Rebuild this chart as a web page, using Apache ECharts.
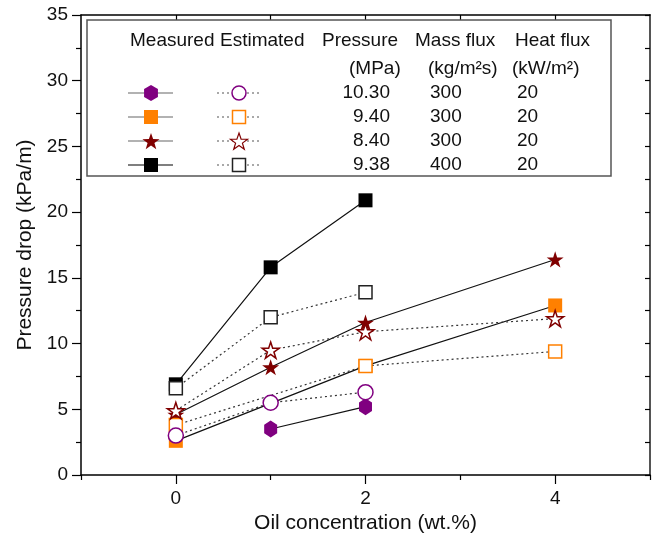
<!DOCTYPE html>
<html><head><meta charset="utf-8">
<script src="https://cdn.jsdelivr.net/npm/echarts@6/dist/echarts.min.js"></script>
<style>html,body{margin:0;padding:0;background:#fff}#c{width:657px;height:540px}</style>
</head><body><div id="c"></div>
<script>
// ---- data ----
const oilConc = [0, 1, 2, 4];
const purpleMeasured = [null, 3.5, 5.2, null];
const purpleEstimated = [3.0, 5.5, 6.3, null];
const orangeMeasured = [2.6, null, 8.3, 12.9];
const orangeEstimated = [3.8, null, 8.3, 9.4];
const redMeasured = [4.6, 8.2, 11.6, 16.4];
const redEstimated = [4.9, 9.5, 10.9, 11.9];
const blackMeasured = [6.9, 15.8, 20.9, null];
const blackEstimated = [6.6, 12.0, 13.9, null];

const xMajorTicks = [0, 2, 4];
const xMinorTicks = [-1, 1, 3, 5];
const xTopTicks = [0, 1, 2, 3, 4];

const legendHeader = ['Measured', 'Estimated', 'Pressure', 'Mass flux', 'Heat flux'];
const legendUnits = ['(MPa)', '(kg/m²s)', '(kW/m²)'];
const pressures = ['10.30', '9.40', '8.40', '9.38'];
const massFlux = ['300', '300', '300', '400'];
const heatFlux = ['20', '20', '20', '20'];

// ---- styles ----
const PURPLE = '#800080', ORANGE = '#FF8000', RED = '#800000', BLACK = '#000000';
const FONT = '"Liberation Sans", Arial, sans-serif';
const LF = '19px ' + FONT;
const HEX = 'path://M50 0 L93.3 25 L93.3 75 L50 100 L6.7 75 L6.7 25 Z';
const STAR = 'path://M50 0 L61.23 34.55 L97.55 34.55 L68.16 55.9 L79.39 90.45 L50 69.1 L20.61 90.45 L31.84 55.9 L2.45 34.55 L38.77 34.55 Z';

function pairs(vals) {
  const out = [];
  vals.forEach((v, i) => { if (v !== null) out.push([oilConc[i], v]); });
  return out;
}
function measured(name, vals, symbol, size, color) {
  return {
    name, type: 'line', data: pairs(vals), symbol, symbolSize: size, symbolKeepAspect: true,
    showAllSymbol: true, z: 3,
    lineStyle: { color: '#111', width: 1.2, type: 'solid' },
    itemStyle: { color, borderWidth: 0 }
  };
}
function estimated(name, vals, symbol, size, color) {
  return {
    name, type: 'line', data: pairs(vals), symbol, symbolSize: size, symbolKeepAspect: true,
    showAllSymbol: true, z: 4,
    lineStyle: { color: '#333', width: 1.2, type: [2, 3] },
    itemStyle: { color: '#fff', borderColor: color, borderWidth: 1.5 }
  };
}

// ---- legend (table) graphics ----
const g = [];
g.push({ type: 'rect', shape: { x: 87, y: 20, width: 524, height: 156 },
  style: { fill: '#fff', stroke: '#555', lineWidth: 1.5 }, z: 10 });
const hdrX = [130, 220, 322, 415, 515];
legendHeader.forEach((t, i) => g.push({ type: 'text', z: 11,
  style: { text: t, x: hdrX[i], y: 41, font: LF, fill: '#111', verticalAlign: 'middle' } }));
const unitX = [349, 428, 512];
legendUnits.forEach((t, i) => g.push({ type: 'text', z: 11,
  style: { text: t, x: unitX[i], y: 69, font: LF, fill: '#111', verticalAlign: 'middle' } }));
const rowY = [93, 117, 141, 165];
rowY.forEach((y, i) => {
  g.push({ type: 'text', z: 11, style: { text: pressures[i], x: 390, y, font: LF, fill: '#111', align: 'right', verticalAlign: 'middle' } });
  g.push({ type: 'text', z: 11, style: { text: massFlux[i], x: 430, y, font: LF, fill: '#111', verticalAlign: 'middle' } });
  g.push({ type: 'text', z: 11, style: { text: heatFlux[i], x: 517, y, font: LF, fill: '#111', verticalAlign: 'middle' } });
  g.push({ type: 'line', z: 11, shape: { x1: 128, y1: y, x2: 173, y2: y }, style: { stroke: i === 3 ? '#000' : '#666', lineWidth: 1.2 } });
  g.push({ type: 'line', z: 11, shape: { x1: 217, y1: y, x2: 262, y2: y }, style: { stroke: '#555', lineWidth: 1.2, lineDash: [2, 3] } });
});
function hexPts(cx, cy, r) { const p = []; for (let k = 0; k < 6; k++) { const a = (-90 + 60 * k) * Math.PI / 180; p.push([cx + r * Math.cos(a), cy + r * Math.sin(a)]); } return p; }
function starPts(cx, cy, R, r) { const p = []; for (let k = 0; k < 10; k++) { const a = (-90 + 36 * k) * Math.PI / 180; const rr = k % 2 ? r : R; p.push([cx + rr * Math.cos(a), cy + rr * Math.sin(a)]); } return p; }
const mX = 151, eX = 239;
g.push({ type: 'polygon', z: 12, shape: { points: hexPts(mX, rowY[0], 8) }, style: { fill: PURPLE } });
g.push({ type: 'circle', z: 12, shape: { cx: eX, cy: rowY[0], r: 7 }, style: { fill: '#fff', stroke: PURPLE, lineWidth: 1.5 } });
g.push({ type: 'rect', z: 12, shape: { x: mX - 7, y: rowY[1] - 7, width: 14, height: 14 }, style: { fill: ORANGE } });
g.push({ type: 'rect', z: 12, shape: { x: eX - 6.5, y: rowY[1] - 6.5, width: 13, height: 13 }, style: { fill: '#fff', stroke: ORANGE, lineWidth: 1.5 } });
g.push({ type: 'polygon', z: 12, shape: { points: starPts(mX, rowY[2] + 1, 9, 3.6) }, style: { fill: RED } });
g.push({ type: 'polygon', z: 12, shape: { points: starPts(eX, rowY[2] + 1, 9, 3.6) }, style: { fill: '#fff', stroke: RED, lineWidth: 1.2 } });
g.push({ type: 'rect', z: 12, shape: { x: mX - 7, y: rowY[3] - 7, width: 14, height: 14 }, style: { fill: BLACK } });
g.push({ type: 'rect', z: 12, shape: { x: eX - 6.5, y: rowY[3] - 6.5, width: 13, height: 13 }, style: { fill: '#fff', stroke: '#222', lineWidth: 1.5 } });

const chart = echarts.init(document.getElementById('c'), null, { renderer: 'canvas' });
chart.setOption({
  animation: false,
  backgroundColor: '#fff',
  grid: { left: 81, right: 7, top: 15, bottom: 65, containLabel: false },
  xAxis: [
    { type: 'value', min: -1, max: 5, position: 'bottom',
      name: 'Oil concentration (wt.%)', nameLocation: 'middle', nameGap: 36,
      nameTextStyle: { fontFamily: FONT, fontSize: 21, color: '#111' },
      axisLine: { show: true, onZero: false, lineStyle: { color: '#000', width: 1.5 } },
      axisTick: { show: true, customValues: xMajorTicks, length: 9, lineStyle: { color: '#000', width: 1.2 } },
      axisLabel: { customValues: xMajorTicks, margin: 14, fontFamily: FONT, fontSize: 19, color: '#111' },
      splitLine: { show: false } },
    { type: 'value', min: -1, max: 5, position: 'bottom',
      axisLine: { show: false }, axisLabel: { show: false }, splitLine: { show: false },
      axisTick: { show: true, customValues: xMinorTicks, length: 5, lineStyle: { color: '#000', width: 1.2 } } },
    { type: 'value', min: -1, max: 5, position: 'top',
      axisLine: { show: true, onZero: false, lineStyle: { color: '#000', width: 1.5 } },
      axisLabel: { show: false }, splitLine: { show: false },
      axisTick: { show: true, inside: true, customValues: xTopTicks, length: 5, lineStyle: { color: '#000', width: 1.2 } } }
  ],
  yAxis: [
    { type: 'value', min: 0, max: 35, interval: 5, position: 'left',
      name: 'Pressure drop (kPa/m)', nameLocation: 'middle', nameGap: 45,
      nameTextStyle: { fontFamily: FONT, fontSize: 21, color: '#111' },
      axisLine: { show: true, onZero: false, lineStyle: { color: '#000', width: 1.5 } },
      axisTick: { show: true, length: 9, lineStyle: { color: '#000', width: 1.2 } },
      minorTick: { show: true, splitNumber: 2, length: 5, lineStyle: { color: '#000', width: 1.2 } },
      axisLabel: { margin: 13, fontFamily: FONT, fontSize: 19, color: '#111' },
      splitLine: { show: false } },
    { type: 'value', min: 0, max: 35, interval: 2.5, position: 'right',
      axisLine: { show: true, onZero: false, lineStyle: { color: '#555', width: 2 } },
      axisTick: { show: true, inside: true, length: 5, lineStyle: { color: '#000', width: 1.2 } },
      axisLabel: { show: false }, splitLine: { show: false } }
  ],
  series: [
    measured('Orange measured', orangeMeasured, 'rect', 14, ORANGE),
    measured('Purple measured', purpleMeasured, HEX, [15, 17], PURPLE),
    measured('Red measured', redMeasured, STAR, 17, RED),
    measured('Black measured', blackMeasured, 'rect', 14, BLACK),
    estimated('Orange estimated', orangeEstimated, 'rect', 13, ORANGE),
    estimated('Purple estimated', purpleEstimated, 'circle', 15, PURPLE),
    estimated('Red estimated', redEstimated, STAR, 17, RED),
    estimated('Black estimated', blackEstimated, 'rect', 13, '#222')
  ],
  graphic: g
});
</script></body></html>
